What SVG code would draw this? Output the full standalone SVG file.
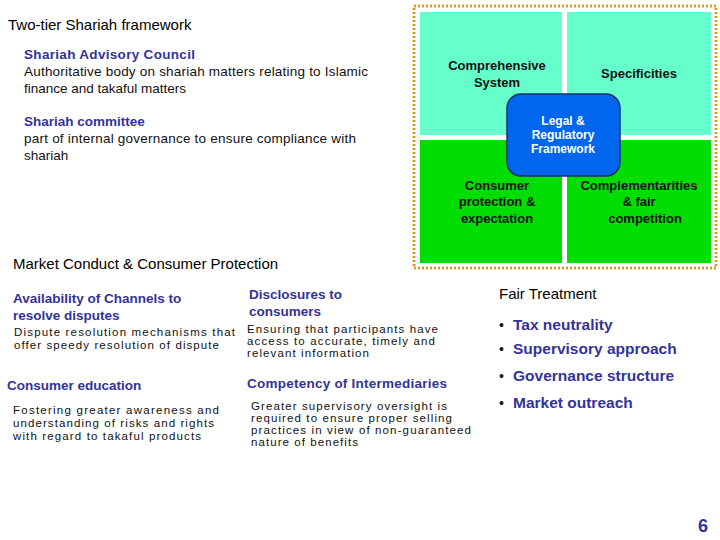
<svg xmlns="http://www.w3.org/2000/svg" width="720" height="540" viewBox="0 0 720 540">
<style>
text{font-family:"Liberation Sans",Arial,sans-serif}
.h{font-size:15px;fill:#000}
.b{font-size:13.5px;font-weight:bold;fill:#333399}
.t{font-size:13.5px;fill:#111}
.s{font-size:11.5px;fill:#111}
.q{font-size:13px;font-weight:bold;fill:#111;text-anchor:middle}
.f{font-size:15.5px;font-weight:bold;fill:#333399}
.d{font-size:14px;fill:#111}
</style>
<rect width="720" height="540" fill="#fff"/>
<g id="shariah">
<text class="h" x="8" y="30">Two-tier Shariah framework</text>
<text class="b" x="24" y="59" textLength="171">Shariah Advisory Council</text>
<text class="t" x="24" y="76" textLength="344">Authoritative body on shariah matters relating to Islamic</text>
<text class="t" x="24" y="93">finance and takaful matters</text>
<text class="b" x="24" y="126">Shariah committee</text>
<text class="t" x="24" y="143" textLength="332">part of internal governance to ensure compliance with</text>
<text class="t" x="24" y="160">shariah</text>
</g>
<g id="framework">
<rect x="414" y="6" width="302" height="262" fill="none" stroke="#e09a2c" stroke-width="3" stroke-dasharray="2,2"/>
<rect x="420" y="12" width="142" height="123" fill="#66ffcc"/>
<rect x="567" y="12" width="144" height="123" fill="#66ffcc"/>
<rect x="420" y="140" width="142" height="123" fill="#00dd00"/>
<rect x="567" y="140" width="144" height="123" fill="#00dd00"/>
<text class="q" x="497" y="70">Comprehensive</text>
<text class="q" x="497" y="87">System</text>
<text class="q" x="639" y="78">Specificities</text>
<text class="q" x="497" y="190">Consumer</text>
<text class="q" x="497" y="206">protection &amp;</text>
<text class="q" x="497" y="223">expectation</text>
<text class="q" x="639" y="190">Complementarities</text>
<text class="q" x="639" y="206">&amp; fair</text>
<text class="q" x="645" y="223">competition</text>
<rect x="507" y="94" width="113" height="82" rx="14" fill="#0066ee" stroke="#113366" stroke-width="1.5"/>
<text x="563" y="125" font-size="12" font-weight="bold" fill="#fff" text-anchor="middle">Legal &amp;</text>
<text x="563" y="139" font-size="12" font-weight="bold" fill="#fff" text-anchor="middle">Regulatory</text>
<text x="563" y="153" font-size="12" font-weight="bold" fill="#fff" text-anchor="middle">Framework</text>
</g>
<g id="market">
<text class="h" x="13" y="269">Market Conduct &amp; Consumer Protection</text>
<text class="b" x="13" y="303">Availability of Channels to</text>
<text class="b" x="13" y="320">resolve disputes</text>
<text class="s" x="14" y="336" textLength="221">Dispute resolution mechanisms that</text>
<text class="s" x="14" y="349" textLength="205">offer speedy resolution of dispute</text>
<text class="b" x="249" y="299">Disclosures to</text>
<text class="b" x="249" y="316">consumers</text>
<text class="s" x="247" y="333" textLength="191">Ensuring that participants have</text>
<text class="s" x="247" y="345" textLength="188">access to accurate, timely and</text>
<text class="s" x="247" y="357" textLength="122">relevant information</text>
<text class="b" x="7" y="390">Consumer education</text>
<text class="s" x="13" y="414" textLength="206">Fostering greater awareness and</text>
<text class="s" x="13" y="427" textLength="201">understanding of risks and rights</text>
<text class="s" x="13" y="440" textLength="188">with regard to takaful products</text>
<text class="b" x="247" y="388" textLength="200">Competency of Intermediaries</text>
<text class="s" x="251" y="410" textLength="196">Greater supervisory oversight is</text>
<text class="s" x="251" y="422" textLength="201">required to ensure proper selling</text>
<text class="s" x="251" y="434" textLength="220">practices in view of non-guaranteed</text>
<text class="s" x="251" y="446" textLength="107">nature of benefits</text>
</g>
<g id="fair">
<text class="h" x="499" y="299">Fair Treatment</text>
<text class="d" x="499" y="330">•</text><text class="f" x="513" y="330">Tax neutrality</text>
<text class="d" x="499" y="354">•</text><text class="f" x="513" y="354">Supervisory approach</text>
<text class="d" x="499" y="381">•</text><text class="f" x="513" y="381">Governance structure</text>
<text class="d" x="499" y="408">•</text><text class="f" x="513" y="408">Market outreach</text>
<text x="708" y="532" font-size="18" font-weight="bold" fill="#333399" text-anchor="end">6</text>
</g>
</svg>
